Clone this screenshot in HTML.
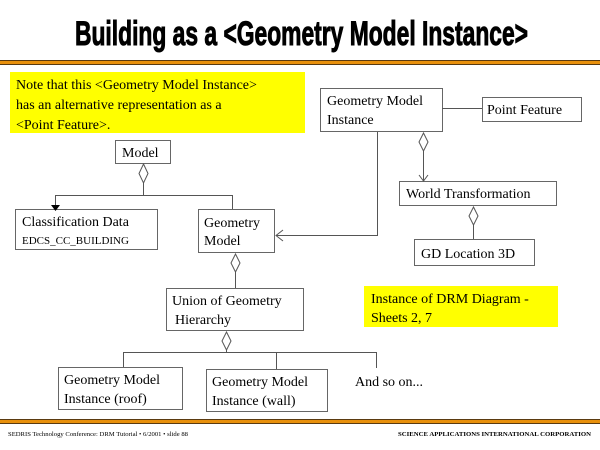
<!DOCTYPE html>
<html><head><meta charset="utf-8"><style>
html,body{margin:0;padding:0;background:#fff;}
svg{display:block;}
text{font-family:"Liberation Serif",serif;font-size:14px;fill:#000;}
</style></head><body>
<svg width="600" height="450" viewBox="0 0 600 450" xmlns="http://www.w3.org/2000/svg">
<rect width="600" height="450" fill="#fff"/>
<text x="75" y="45" textLength="453" lengthAdjust="spacingAndGlyphs" style="font-family:'Liberation Sans',sans-serif;font-weight:bold;font-size:34px;stroke:#000;stroke-width:1;">Building as a &lt;Geometry Model Instance&gt;</text>
<rect x="0" y="60" width="600" height="5" fill="#e8900c"/>
<line x1="0" y1="60.5" x2="600" y2="60.5" stroke="#5a3a10"/>
<line x1="0" y1="64.5" x2="600" y2="64.5" stroke="#5a3a10"/>
<rect x="0" y="419" width="600" height="5" fill="#e8900c"/>
<line x1="0" y1="419.5" x2="600" y2="419.5" stroke="#5a3a10"/>
<line x1="0" y1="423.5" x2="600" y2="423.5" stroke="#5a3a10"/>
<text x="8" y="436" style="font-size:6px;" textLength="180" lengthAdjust="spacingAndGlyphs">SEDRIS Technology Conference: DRM Tutorial • 6/2001 • slide 88</text>
<text x="398" y="436" style="font-size:6px;font-weight:bold;" textLength="193" lengthAdjust="spacingAndGlyphs">SCIENCE APPLICATIONS INTERNATIONAL CORPORATION</text>

<rect x="10" y="72" width="295" height="61" fill="#ffff00"/>
<text x="16" y="89">Note that this &lt;Geometry Model Instance&gt;</text>
<text x="16" y="109">has an alternative representation as a</text>
<text x="16" y="129">&lt;Point Feature&gt;.</text>

<rect x="364" y="286" width="194" height="41" fill="#ffff00"/>
<text x="371" y="303">Instance of DRM Diagram -</text>
<text x="371" y="322">Sheets 2, 7</text>

<g fill="#fff" stroke="#666" stroke-width="1">
<rect x="115.5" y="140.5" width="55" height="23"/>
<rect x="15.5" y="209.5" width="142" height="40"/>
<rect x="198.5" y="209.5" width="76" height="43"/>
<rect x="166.5" y="288.5" width="137" height="42"/>
<rect x="58.5" y="367.5" width="124" height="42"/>
<rect x="206.5" y="369.5" width="121" height="42"/>
<rect x="320.5" y="88.5" width="122" height="43"/>
<rect x="482.5" y="97.5" width="99" height="24"/>
<rect x="399.5" y="181.5" width="157" height="24"/>
<rect x="414.5" y="239.5" width="120" height="26"/>
</g>
<g fill="none" stroke="#555" stroke-width="1">
<path d="M143.5 183 V195.5 H55.5 V205"/>
<path d="M143.5 195.5 H232.5 V209"/>
<path d="M235.5 272 V288"/>
<path d="M226.5 350 V352.5 M123.5 367 V352.5 H376.5 V368 M276.5 352.5 V369"/>
<path d="M442 108.5 H482"/>
<path d="M377.5 132 V235.5 H276"/>
<path d="M283 230 L276 235.5 L283 241"/>
<path d="M423.5 151 V181 M419 175 L423.5 181 L428 175"/>
<path d="M473.5 225 V239"/>
</g>
<path d="M51 205 L60 205 L55.5 211 Z" fill="#000"/>
<g fill="#fff" stroke="#555">
<path d="M143.5 164 L148 173.5 L143.5 183 L139 173.5 Z"/>
<path d="M235.5 254 L240 263 L235.5 272 L231 263 Z"/>
<path d="M226.5 332 L231 341 L226.5 350 L222 341 Z"/>
<path d="M423.5 133 L428 142 L423.5 151 L419 142 Z"/>
<path d="M473.5 207 L478 216 L473.5 225 L469 216 Z"/>
</g>

<text x="122" y="157">Model</text>
<text x="22" y="226">Classification Data</text>
<text x="22" y="244" style="font-size:11px;">EDCS_CC_BUILDING</text>
<text x="204" y="227">Geometry</text>
<text x="204" y="245">Model</text>
<text x="172" y="305">Union of Geometry</text>
<text x="175" y="324">Hierarchy</text>
<text x="64" y="384">Geometry Model</text>
<text x="64" y="403">Instance (roof)</text>
<text x="212" y="386">Geometry Model</text>
<text x="212" y="405">Instance (wall)</text>
<text x="355" y="386">And so on...</text>
<text x="327" y="105">Geometry Model</text>
<text x="327" y="124">Instance</text>
<text x="487" y="114">Point Feature</text>
<text x="406" y="198">World Transformation</text>
<text x="421" y="258">GD Location 3D</text>
</svg>
</body></html>
